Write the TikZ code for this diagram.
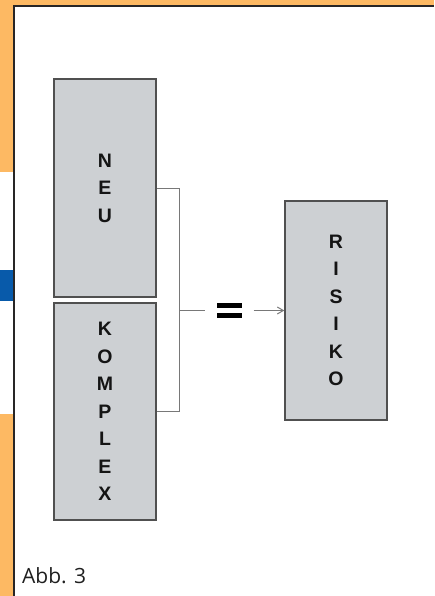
\documentclass[tikz,border=0pt]{standalone}
\usepackage{fontspec}
\setmainfont{Liberation Sans}
\newfontfamily\captionfont{Open Sans}
\usetikzlibrary{arrows.meta,calc}
\definecolor{pageorange}{RGB}{253,185,99}
\definecolor{tabblue}{RGB}{8,90,170}
\definecolor{frameline}{RGB}{40,38,38}
\definecolor{boxfill}{RGB}{205,208,211}
\definecolor{boxline}{RGB}{80,80,80}
\definecolor{linkgray}{RGB}{120,120,120}

\begin{document}
\begin{tikzpicture}[x=1pt,y=-1pt,
  block/.style={draw=boxline,line width=1.4pt,fill=boxfill,minimum width=102pt,
    inner sep=0pt,align=center,font=\fontsize{19.5}{27.5}\selectfont\bfseries,text=black!92},
  link/.style={draw=linkgray,line width=1pt},
  eqbar/.style={fill=black}]
\useasboundingbox (0,0) rectangle (434,596);

% page background with side tabs
\fill[pageorange] (0,0) rectangle (434,596);
\fill[white] (0,172) rectangle (14,270);
\fill[tabblue] (0,270) rectangle (14,301);
\fill[white] (0,301) rectangle (14,414);
\fill[white] (14,6) rectangle (434,596);
\draw[frameline,line width=2.6pt] (14,596) -- (14,6) -- (434,6);

% factor boxes and result box
\node[block,minimum height=218pt] (neu) at (105,188) {N\\E\\U};
\node[block,minimum height=217pt] (kom) at (105,411.5) {K\\O\\M\\P\\L\\E\\X};
\node[block,minimum height=219pt] (ris) at (336,310.5) {R\\I\\S\\I\\K\\O};

% bracket joining both factors
\coordinate (jn) at (179.5,310.5);
\draw[link] (neu.east) -| (jn);
\draw[link] (kom.east) -| (jn);

% equals sign
\node[minimum width=48pt,minimum height=16pt,inner sep=0pt] (eq) at (229.5,310.5) {};
\fill[eqbar] ($(eq.center)+(-12.5,-7.5)$) rectangle ($(eq.center)+(12.5,-2.5)$);
\fill[eqbar] ($(eq.center)+(-12.5,2.5)$) rectangle ($(eq.center)+(12.5,7.5)$);
\draw[link] (jn) -- (eq.west);
\draw[link,-{Straight Barb[length=6pt,width=7pt]}] (eq.east) -- (ris.west);

% caption
\node[anchor=base west,inner sep=0pt,font=\captionfont\fontsize{21}{25}\selectfont,
  text=black!88] (cap) at (22,583) {Abb. 3};
\end{tikzpicture}
\end{document}
